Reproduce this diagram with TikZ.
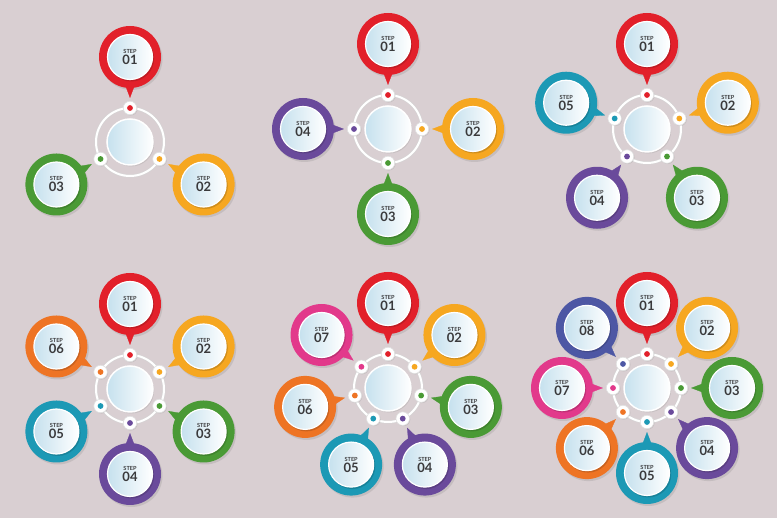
\documentclass[tikz,border=0pt]{standalone}
\usepackage{fontspec}
\setmainfont{Lato}
\usetikzlibrary{arrows.meta,shadows}

\definecolor{bgcol}{HTML}{D9CFD2}
\definecolor{txtcol}{HTML}{3A3A3C}
\definecolor{skyc}{HTML}{C6E1EE}
\definecolor{stepred}{HTML}{E2202A}
\definecolor{steporange}{HTML}{F6A720}
\definecolor{stepgreen}{HTML}{4A9A35}
\definecolor{steppurple}{HTML}{6A4A9B}
\definecolor{stepteal}{HTML}{1C99B5}
\definecolor{steprust}{HTML}{EE7424}
\definecolor{steppink}{HTML}{E2398B}
\definecolor{stepblue}{HTML}{4D57A4}
\newcommand{\stp}{\fontsize{5.6}{6}\selectfont STEP}

\begin{document}
\begin{tikzpicture}[x=1pt,y=1pt]
    \tikzstyle{bub} = [circle, fill=#1, minimum size=62pt, inner sep=0pt, text=txtcol, align=center,
      font=\bfseries\fontsize{13}{11}\selectfont,
      drop shadow={shadow xshift=1.5pt, shadow yshift=-2pt, opacity=0.22},
      path picture={
        \fill[black, opacity=0.15] ([shift={(1.2pt,-1.5pt)}]path picture bounding box.center) circle (23pt);
        \draw[white, line width=1.2pt, left color=skyc, right color=white] (path picture bounding box.center) circle (22.5pt);}]
    \tikzstyle{dot} = [circle, fill=white, draw=black!12, line width=0.6pt, minimum size=13.5pt, inner sep=0pt,
      drop shadow={shadow xshift=0.8pt, shadow yshift=-0.8pt, opacity=0.2},
      path picture={\fill[#1] (path picture bounding box.center) circle (2.9pt);}]
    \tikzstyle{hub} = [circle, draw=white, line width=1.5pt, minimum size=46pt, inner sep=0pt,
      left color=skyc, right color=white,
      drop shadow={shadow xshift=1.2pt, shadow yshift=-1.5pt, opacity=0.2}]
    \tikzstyle{ring} = [draw=black!16, line width=0.5pt, double=white, double distance=2pt]
    \tikzstyle{tail} = [draw=#1, fill=#1, line width=0.3pt, -{Triangle[length=16pt, width=12pt]}, shorten >=3pt]

    \path[use as bounding box, fill=bgcol] (0,0) rectangle (777,518);

    % three steps
    \begin{scope}[shift={(130,376)}]
      \node[hub] (c) at (0,0) {};
      \draw[ring] (c.center) circle (34);
      \node[dot=stepred] (d1) at (90:34) {};
      \node[dot=steporange] (d2) at (-30:34) {};
      \node[dot=stepgreen] (d3) at (210:34) {};
      \node[bub=stepred] (s1) at (90:85) {{\stp}\\01};
      \node[bub=steporange] (s2) at (-30:85) {{\stp}\\02};
      \node[bub=stepgreen] (s3) at (210:85) {{\stp}\\03};
      \draw[tail=stepred] (s1) -- (d1);
      \draw[tail=steporange] (s2) -- (d2);
      \draw[tail=stepgreen] (s3) -- (d3);
    \end{scope}

    % four steps
    \begin{scope}[shift={(388,389)}]
      \node[hub] (c) at (0,0) {};
      \draw[ring] (c.center) circle (34);
      \node[dot=stepred] (d1) at (90:34) {};
      \node[dot=steporange] (d2) at (0:34) {};
      \node[dot=stepgreen] (d3) at (-90:34) {};
      \node[dot=steppurple] (d4) at (180:34) {};
      \node[bub=stepred] (s1) at (90:85) {{\stp}\\01};
      \node[bub=steporange] (s2) at (0:85) {{\stp}\\02};
      \node[bub=stepgreen] (s3) at (-90:85) {{\stp}\\03};
      \node[bub=steppurple] (s4) at (180:85) {{\stp}\\04};
      \draw[tail=stepred] (s1) -- (d1);
      \draw[tail=steporange] (s2) -- (d2);
      \draw[tail=stepgreen] (s3) -- (d3);
      \draw[tail=steppurple] (s4) -- (d4);
    \end{scope}

    % five steps
    \begin{scope}[shift={(647,389)}]
      \node[hub] (c) at (0,0) {};
      \draw[ring] (c.center) circle (34);
      \node[dot=stepred] (d1) at (90:34) {};
      \node[dot=steporange] (d2) at (18:34) {};
      \node[dot=stepgreen] (d3) at (-54:34) {};
      \node[dot=steppurple] (d4) at (-126:34) {};
      \node[dot=stepteal] (d5) at (162:34) {};
      \node[bub=stepred] (s1) at (90:85) {{\stp}\\01};
      \node[bub=steporange] (s2) at (18:85) {{\stp}\\02};
      \node[bub=stepgreen] (s3) at (-54:85) {{\stp}\\03};
      \node[bub=steppurple] (s4) at (-126:85) {{\stp}\\04};
      \node[bub=stepteal] (s5) at (162:85) {{\stp}\\05};
      \draw[tail=stepred] (s1) -- (d1);
      \draw[tail=steporange] (s2) -- (d2);
      \draw[tail=stepgreen] (s3) -- (d3);
      \draw[tail=steppurple] (s4) -- (d4);
      \draw[tail=stepteal] (s5) -- (d5);
    \end{scope}

    % six steps
    \begin{scope}[shift={(130,129)}]
      \node[hub] (c) at (0,0) {};
      \draw[ring] (c.center) circle (34);
      \node[dot=stepred] (d1) at (90:34) {};
      \node[dot=steporange] (d2) at (30:34) {};
      \node[dot=stepgreen] (d3) at (-30:34) {};
      \node[dot=steppurple] (d4) at (-90:34) {};
      \node[dot=stepteal] (d5) at (-150:34) {};
      \node[dot=steprust] (d6) at (150:34) {};
      \node[bub=stepred] (s1) at (90:85) {{\stp}\\01};
      \node[bub=steporange] (s2) at (30:85) {{\stp}\\02};
      \node[bub=stepgreen] (s3) at (-30:85) {{\stp}\\03};
      \node[bub=steppurple] (s4) at (-90:85) {{\stp}\\04};
      \node[bub=stepteal] (s5) at (-150:85) {{\stp}\\05};
      \node[bub=steprust] (s6) at (150:85) {{\stp}\\06};
      \draw[tail=stepred] (s1) -- (d1);
      \draw[tail=steporange] (s2) -- (d2);
      \draw[tail=stepgreen] (s3) -- (d3);
      \draw[tail=steppurple] (s4) -- (d4);
      \draw[tail=stepteal] (s5) -- (d5);
      \draw[tail=steprust] (s6) -- (d6);
    \end{scope}

    % seven steps
    \begin{scope}[shift={(388,130)}]
      \node[hub] (c) at (0,0) {};
      \draw[ring] (c.center) circle (34);
      \node[dot=stepred] (d1) at (90:34) {};
      \node[dot=steporange] (d2) at (38.57:34) {};
      \node[dot=stepgreen] (d3) at (-12.86:34) {};
      \node[dot=steppurple] (d4) at (-64.29:34) {};
      \node[dot=stepteal] (d5) at (-115.71:34) {};
      \node[dot=steprust] (d6) at (-167.14:34) {};
      \node[dot=steppink] (d7) at (141.43:34) {};
      \node[bub=stepred] (s1) at (90:85) {{\stp}\\01};
      \node[bub=steporange] (s2) at (38.57:85) {{\stp}\\02};
      \node[bub=stepgreen] (s3) at (-12.86:85) {{\stp}\\03};
      \node[bub=steppurple] (s4) at (-64.29:85) {{\stp}\\04};
      \node[bub=stepteal] (s5) at (-115.71:85) {{\stp}\\05};
      \node[bub=steprust] (s6) at (-167.14:85) {{\stp}\\06};
      \node[bub=steppink] (s7) at (141.43:85) {{\stp}\\07};
      \draw[tail=stepred] (s1) -- (d1);
      \draw[tail=steporange] (s2) -- (d2);
      \draw[tail=stepgreen] (s3) -- (d3);
      \draw[tail=steppurple] (s4) -- (d4);
      \draw[tail=stepteal] (s5) -- (d5);
      \draw[tail=steprust] (s6) -- (d6);
      \draw[tail=steppink] (s7) -- (d7);
    \end{scope}

    % eight steps
    \begin{scope}[shift={(647,130)}]
      \node[hub] (c) at (0,0) {};
      \draw[ring] (c.center) circle (34);
      \node[dot=stepred] (d1) at (90:34) {};
      \node[dot=steporange] (d2) at (45:34) {};
      \node[dot=stepgreen] (d3) at (0:34) {};
      \node[dot=steppurple] (d4) at (-45:34) {};
      \node[dot=stepteal] (d5) at (-90:34) {};
      \node[dot=steprust] (d6) at (-135:34) {};
      \node[dot=steppink] (d7) at (180:34) {};
      \node[dot=stepblue] (d8) at (135:34) {};
      \node[bub=stepred] (s1) at (90:85) {{\stp}\\01};
      \node[bub=steporange] (s2) at (45:85) {{\stp}\\02};
      \node[bub=stepgreen] (s3) at (0:85) {{\stp}\\03};
      \node[bub=steppurple] (s4) at (-45:85) {{\stp}\\04};
      \node[bub=stepteal] (s5) at (-90:85) {{\stp}\\05};
      \node[bub=steprust] (s6) at (-135:85) {{\stp}\\06};
      \node[bub=steppink] (s7) at (180:85) {{\stp}\\07};
      \node[bub=stepblue] (s8) at (135:85) {{\stp}\\08};
      \draw[tail=stepred] (s1) -- (d1);
      \draw[tail=steporange] (s2) -- (d2);
      \draw[tail=stepgreen] (s3) -- (d3);
      \draw[tail=steppurple] (s4) -- (d4);
      \draw[tail=stepteal] (s5) -- (d5);
      \draw[tail=steprust] (s6) -- (d6);
      \draw[tail=steppink] (s7) -- (d7);
      \draw[tail=stepblue] (s8) -- (d8);
    \end{scope}
\end{tikzpicture}
\end{document}
